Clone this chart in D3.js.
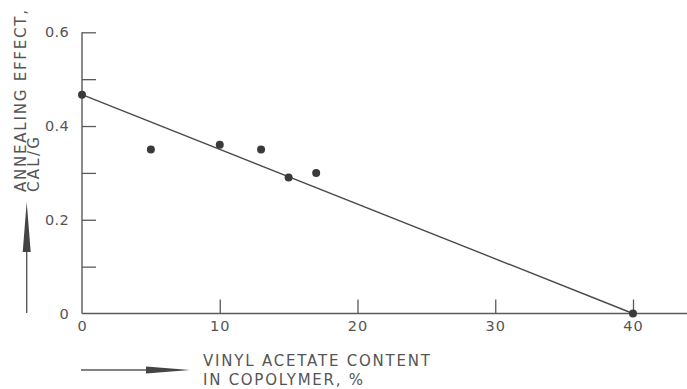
<!DOCTYPE html>
<html>
<head>
<meta charset="utf-8">
<script src="https://cdn.jsdelivr.net/npm/d3@7"></script>
<style>
  html, body { margin: 0; padding: 0; background: #fff; }
  svg { display: block; }
  text { font-family: "DejaVu Sans", sans-serif; fill: #555; }
</style>
</head>
<body>
<svg id="chart" width="687" height="389"></svg>
<script>
// Data
const vinylAcetate = [0, 5, 10, 13, 15, 17, 40];          // % in copolymer
const annealingEffect = [0.467, 0.35, 0.36, 0.35, 0.29, 0.30, 0.0]; // cal/g
const fitLineX = [0, 40];
const fitLineY = [0.467, 0.0];
const xTickValues = [0, 10, 20, 30, 40];
const xTickLabels = ["0", "10", "20", "30", "40"];
const yTickValues = [0, 0.1, 0.2, 0.3, 0.4, 0.5, 0.6];
const yTickLabels = ["0", "", "0.2", "", "0.4", "", "0.6"];
const xTitle = ["VINYL ACETATE  CONTENT", "IN  COPOLYMER, %"];
const yTitle = ["ANNEALING  EFFECT,", "CAL/G"];

const W = 687, H = 389;
const svg = d3.select("#chart");
const ink = "#5a5a5a";

const x = d3.scaleLinear().domain([0, 40]).range([82, 633]);
const y = d3.scaleLinear().domain([0, 0.6]).range([313.5, 32.3]);

// X axis
const xAxis = d3.axisBottom(x)
  .tickValues(xTickValues)
  .tickSizeInner(-14).tickSizeOuter(0).tickPadding(7)
  .tickFormat((d, i) => xTickLabels[i]);
const gx = svg.append("g").attr("transform", `translate(0,${y(0)})`).call(xAxis);
gx.select(".domain").remove();
gx.selectAll(".tick line").attr("stroke", ink).attr("stroke-width", 1.3)
  .filter(d => d === 0).remove();
gx.selectAll(".tick text").attr("font-size", 14.5).attr("letter-spacing", 1)
  .attr("fill", "#555").style("font-family", "DejaVu Sans, sans-serif");
svg.append("line")
  .attr("x1", x(0)).attr("x2", W).attr("y1", y(0)).attr("y2", y(0))
  .attr("stroke", ink).attr("stroke-width", 1.4);

// Y axis
const yAxis = d3.axisLeft(y)
  .tickValues(yTickValues)
  .tickSizeInner(-14).tickSizeOuter(0).tickPadding(13)
  .tickFormat((d, i) => yTickLabels[i]);
const gy = svg.append("g").attr("transform", `translate(${x(0)},0)`).call(yAxis);
gy.select(".domain").remove();
gy.selectAll(".tick line").attr("stroke", ink).attr("stroke-width", 1.3)
  .filter(d => d === 0).remove();
gy.selectAll(".tick text").attr("font-size", 14.5).attr("letter-spacing", 0.3)
  .attr("fill", "#555").style("font-family", "DejaVu Sans, sans-serif");
svg.append("line")
  .attr("x1", x(0)).attr("x2", x(0)).attr("y1", y(0)).attr("y2", y(0.6))
  .attr("stroke", ink).attr("stroke-width", 1.4);

// Fit line
const line = d3.line().x(d => x(d[0])).y(d => y(d[1]));
svg.append("path")
  .datum(fitLineX.map((v, i) => [v, fitLineY[i]]))
  .attr("d", line).attr("fill", "none")
  .attr("stroke", "#4a4a4a").attr("stroke-width", 1.4);

// Points
svg.selectAll("circle.pt")
  .data(vinylAcetate.map((v, i) => [v, annealingEffect[i]]))
  .join("circle").attr("class", "pt")
  .attr("cx", d => x(d[0])).attr("cy", d => y(d[1]))
  .attr("r", 4).attr("fill", "#3a3a3a");

// X title with arrow
const xt = svg.append("g");
xt.append("line").attr("x1", 81).attr("x2", 152).attr("y1", 370).attr("y2", 370)
  .attr("stroke", ink).attr("stroke-width", 1.4);
xt.append("path").attr("d", "M146,366.5 L190,370 L146,373.5 Z").attr("fill", "#444");
xt.append("text").attr("x", 203).attr("y", 366).attr("font-size", 15)
  .attr("textLength", 227).attr("lengthAdjust", "spacing").text(xTitle[0]);
xt.append("text").attr("x", 203).attr("y", 384.5).attr("font-size", 15)
  .attr("textLength", 160).attr("lengthAdjust", "spacing").text(xTitle[1]);

// Y title with arrow
const yt = svg.append("g");
yt.append("line").attr("x1", 26.7).attr("x2", 26.7).attr("y1", 313).attr("y2", 246)
  .attr("stroke", ink).attr("stroke-width", 1.4);
yt.append("path").attr("d", "M22.7,252 L26.7,202 L30.7,252 Z").attr("fill", "#444");
yt.append("text").attr("transform", "translate(26,192) rotate(-90)")
  .attr("font-size", 15).attr("textLength", 182).attr("lengthAdjust", "spacing")
  .text(yTitle[0]);
yt.append("text").attr("transform", "translate(38.5,192) rotate(-90)")
  .attr("font-size", 15).attr("textLength", 55).attr("lengthAdjust", "spacing")
  .text(yTitle[1]);
</script>
</body>
</html>
